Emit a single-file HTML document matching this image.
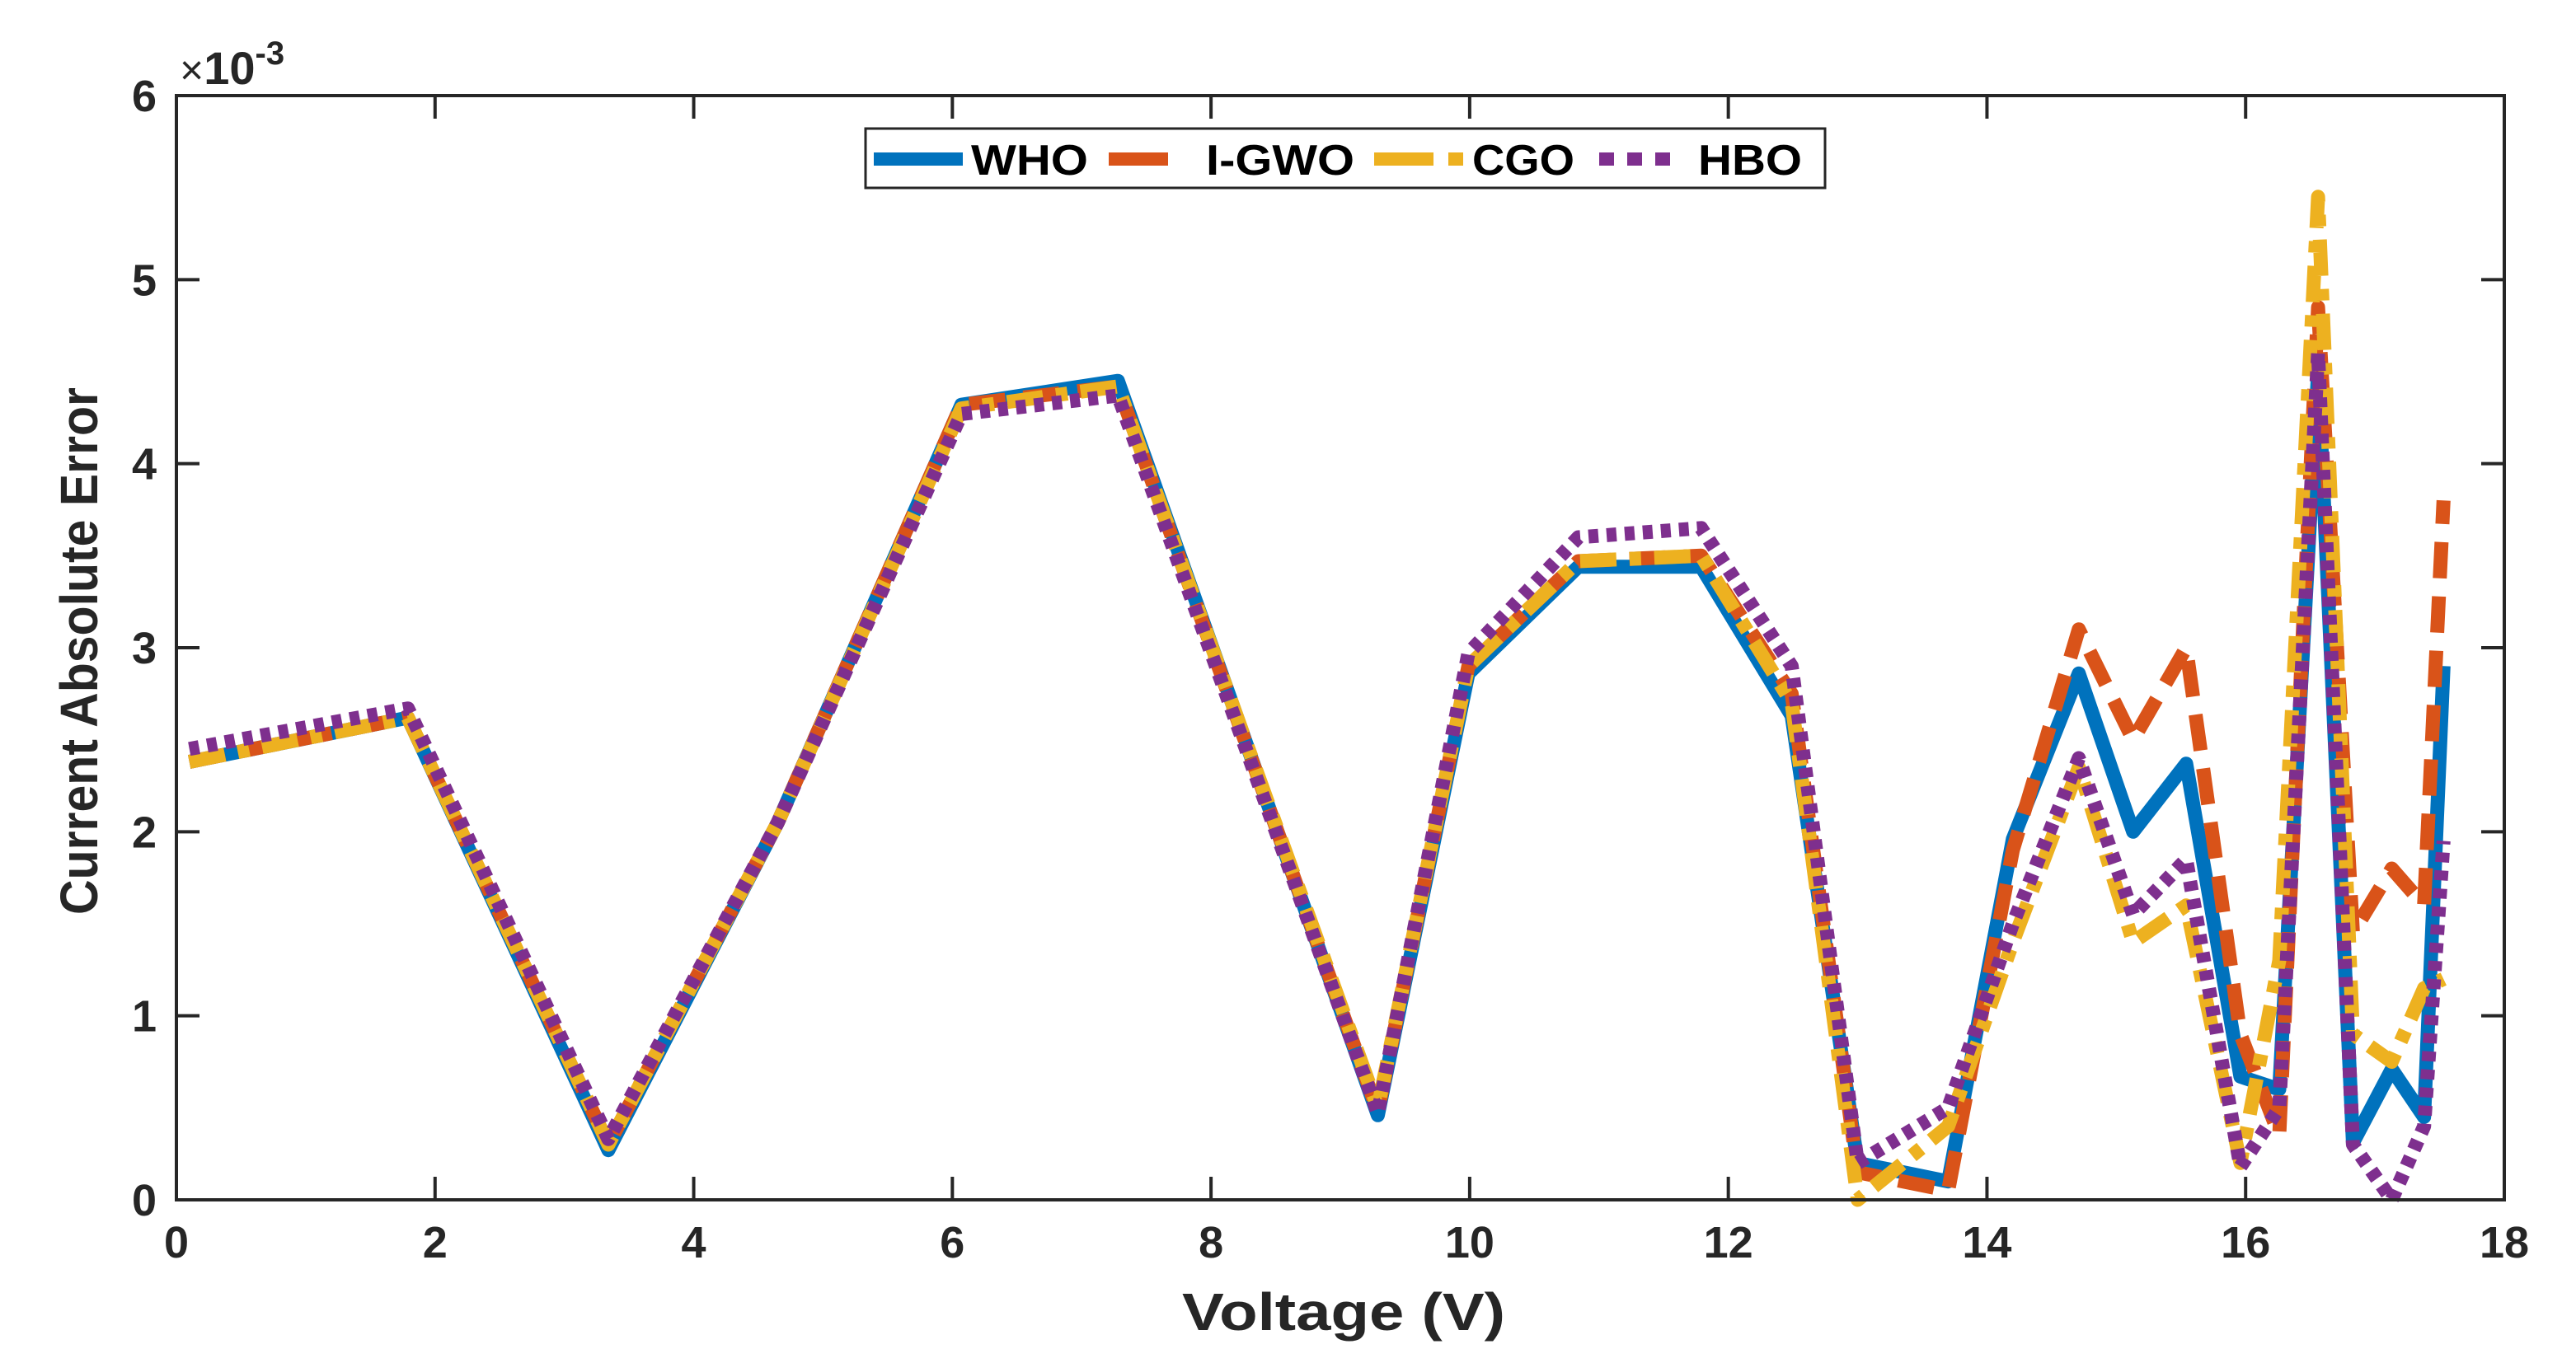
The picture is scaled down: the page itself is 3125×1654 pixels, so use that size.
<!DOCTYPE html>
<html><head><meta charset="utf-8"><style>
html,body{margin:0;padding:0;background:#fff;}
svg{display:block;font-family:"Liberation Sans",Arial,sans-serif;}
</style></head><body>
<svg id="chart" width="3125" height="1654" viewBox="0 0 3125 1654" xmlns="http://www.w3.org/2000/svg">
<rect width="3125" height="1654" fill="#fff"/>
<g id="series"></g>
<rect x="214" y="116" width="2824" height="1340" fill="none" stroke="#262626" stroke-width="4"/>
<g id="ticks"></g>
<text x="218" y="102" font-size="50" fill="#262626">×<tspan font-weight="bold" font-size="56">10</tspan><tspan dy="-24" font-size="40" font-weight="bold">-3</tspan></text>
<text x="1630" y="1614" font-size="64" font-weight="bold" text-anchor="middle" fill="#262626" textLength="392" lengthAdjust="spacingAndGlyphs">Voltage (V)</text>
<text transform="translate(118,790) rotate(-90)" font-size="64" font-weight="bold" text-anchor="middle" fill="#262626" textLength="640" lengthAdjust="spacingAndGlyphs">Current Absolute Error</text>
<g>
<rect x="1050" y="156" width="1164" height="72" fill="#fff" stroke="#262626" stroke-width="3"/>
<line x1="1060" y1="193" x2="1168" y2="193" stroke="#0072BD" stroke-width="16"/>
<text x="1178" y="212" font-size="52" font-weight="bold" textLength="142" lengthAdjust="spacingAndGlyphs">WHO</text>
<line x1="1345" y1="193" x2="1417" y2="193" stroke="#D95319" stroke-width="16"/>
<text x="1463" y="212" font-size="52" font-weight="bold" textLength="180" lengthAdjust="spacingAndGlyphs">I-GWO</text>
<line x1="1667" y1="193" x2="1775" y2="193" stroke="#EDB120" stroke-width="16" stroke-dasharray="72,18,18,18"/>
<text x="1786" y="212" font-size="52" font-weight="bold" textLength="124" lengthAdjust="spacingAndGlyphs">CGO</text>
<line x1="1940" y1="193" x2="2030" y2="193" stroke="#7E2F8E" stroke-width="16" stroke-dasharray="18,16"/>
<text x="2060" y="212" font-size="52" font-weight="bold" textLength="126" lengthAdjust="spacingAndGlyphs">HBO</text>
</g>
</svg>
<script>
const voltages = [0.1,1.79,3.34,4.65,6.07,7.28,9.29,9.99,10.84,11.79,12.49,13.0,13.7,14.2,14.71,15.13,15.54,15.96,16.26,16.56,16.83,17.13,17.38,17.53];
const whoVals  = [2.38,2.62,0.27,2.05,4.32,4.45,0.46,2.86,3.44,3.44,2.63,0.2,0.1,1.96,2.86,2.0,2.37,0.67,0.6,4.5,0.31,0.71,0.45,2.9];
const igwoVals = [2.38,2.62,0.3,2.05,4.32,4.42,0.48,2.9,3.47,3.5,2.75,0.15,0.05,1.9,3.1,2.5,3.0,0.9,0.35,4.85,1.45,1.8,1.6,3.8];
const cgoVals  = [2.38,2.62,0.3,2.05,4.3,4.42,0.5,2.9,3.47,3.5,2.7,0.0,0.4,1.4,2.35,1.4,1.6,0.2,1.3,5.45,0.9,0.75,1.15,1.2];
const hboVals  = [2.45,2.67,0.33,2.05,4.27,4.37,0.47,2.97,3.6,3.65,2.9,0.2,0.5,1.5,2.4,1.55,1.85,0.18,0.5,4.6,0.3,0.0,0.4,1.95];
const xTicks = [0,2,4,6,8,10,12,14,16,18];
const yTicks = [0,1,2,3,4,5,6];
const X0=214,X1=3038,Y0=1456,Y1=116;
function xs(v){return X0+(v-0)/(18-0)*(X1-X0);}
function ys(v){return Y0-(v-0)/(6-0)*(Y0-Y1);}
const NS="http://www.w3.org/2000/svg";
const sg=document.getElementById('series');
function addLine(vals,color,dash,name){
  const p=document.createElementNS(NS,'polyline');
  p.setAttribute('points',voltages.map((v,i)=>xs(v).toFixed(1)+','+ys(vals[i]).toFixed(1)).join(' '));
  p.setAttribute('fill','none');p.setAttribute('stroke',color);p.setAttribute('stroke-width','17');
  p.setAttribute('stroke-linejoin','round');
  if(dash)p.setAttribute('stroke-dasharray',dash);
  
  
  sg.appendChild(p);
}
addLine(whoVals,'#0072BD',null,'who-line');
addLine(igwoVals,'#D95319','44,22','igwo-line');
addLine(cgoVals,'#EDB120','44,16,14,16','cgo-line');
addLine(hboVals,'#7E2F8E','12,10','hbo-line');
const tg=document.getElementById('ticks');
xTicks.forEach(t=>{
  const x=xs(t);
  const l=document.createElementNS(NS,'path');
  l.setAttribute('d',`M${x},${Y0}v-28M${x},${Y1}v28`);l.setAttribute('stroke','#262626');l.setAttribute('stroke-width','4');
  
  
  tg.appendChild(l);
  const tx=document.createElementNS(NS,'text');
  tx.setAttribute('x',x);tx.setAttribute('y',Y0+70);tx.setAttribute('text-anchor','middle');
  tx.setAttribute('font-size','54');tx.setAttribute('font-weight','bold');tx.setAttribute('fill','#262626');
  tx.textContent=t;
  
  
  tg.appendChild(tx);
});
yTicks.forEach(t=>{
  const y=ys(t);
  const l=document.createElementNS(NS,'path');
  l.setAttribute('d',`M${X0},${y}h28M${X1},${y}h-28`);l.setAttribute('stroke','#262626');l.setAttribute('stroke-width','4');
  
  
  tg.appendChild(l);
  const tx=document.createElementNS(NS,'text');
  tx.setAttribute('x',X0-24);tx.setAttribute('y',y+19);tx.setAttribute('text-anchor','end');
  tx.setAttribute('font-size','54');tx.setAttribute('font-weight','bold');tx.setAttribute('fill','#262626');
  tx.textContent=t;
  
  
  tg.appendChild(tx);
});
</script>
</body></html>
